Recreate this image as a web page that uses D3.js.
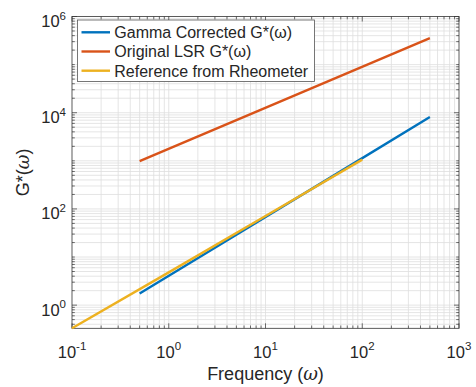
<!DOCTYPE html>
<html>
<head>
<meta charset="utf-8">
<script src="https://cdn.jsdelivr.net/npm/d3@7"></script>
<style>
  html, body { margin: 0; padding: 0; background: #fff; }
  svg { display: block; font-family: "Liberation Sans", Arial, Helvetica, sans-serif; }
</style>
</head>
<body>
<svg id="chart" width="476" height="387"></svg>
<script>
// Frequency sweeps (rad/s) and complex modulus G*(ω)
const gammaFreq = [0.5, 5, 50, 500];
const gammaG    = [1.75, 29, 487, 8110];

const lsrFreq = [0.5, 5, 50, 500];
const lsrG    = [990, 7030, 49900, 354000];

const rheoFreq = [0.1, 1, 10, 100];
const rheoG    = [0.33, 4.8, 71, 1060];

const seriesNames = ["Gamma Corrected G*(ω)", "Original LSR G*(ω)", "Reference from Rheometer"];
const xTickExps = [-1, 0, 1, 2, 3];
const yTickExps = [0, 2, 4, 6];

const series = [
  { name: seriesNames[0], x: gammaFreq, y: gammaG, color: "#0072BD" },
  { name: seriesNames[1], x: lsrFreq,   y: lsrG,   color: "#D95319" },
  { name: seriesNames[2], x: rheoFreq,  y: rheoG,  color: "#EDB120" }
];

const svg = d3.select("#chart");
const L = 72, R = 459, T = 16.5, B = 328.3;

const x = d3.scaleLog().domain([0.1, 1000]).range([L, R]);
const y = d3.scaleLog().domain([0.33, 1e6]).range([B, T]);

// grid: minor (2..9 per decade) and decade lines
const xMinor = [], yMinor = [];
for (let e = -1; e < 3; e++) for (let m = 1; m <= 9; m++) xMinor.push(m * Math.pow(10, e));
for (let e = -1; e < 6; e++) for (let m = 1; m <= 9; m++) {
  const v = m * Math.pow(10, e);
  if (v > 0.33 && v < 1e6) yMinor.push(v);
}

const grid = svg.append("g");
grid.selectAll(".gx").data(xMinor.filter(v => v > 0.1 && v < 1000)).enter().append("line")
  .attr("x1", d => x(d)).attr("x2", d => x(d)).attr("y1", T).attr("y2", B)
  .attr("stroke", "#dedede").attr("stroke-width", 0.8);
grid.selectAll(".gy").data(yMinor).enter().append("line")
  .attr("y1", d => y(d)).attr("y2", d => y(d)).attr("x1", L).attr("x2", R)
  .attr("stroke", "#dedede").attr("stroke-width", 0.8);

// tick marks on all four sides, pointing inward
const ticks = svg.append("g").attr("stroke", "#333").attr("stroke-width", 0.7);
xMinor.filter(v => v >= 0.1 && v <= 1000).concat([1000]).forEach(v => {
  const major = Math.abs(Math.log10(v) - Math.round(Math.log10(v))) < 1e-9;
  const len = major ? 5 : 2.8;
  ticks.append("line").attr("x1", x(v)).attr("x2", x(v)).attr("y1", B).attr("y2", B - len);
  ticks.append("line").attr("x1", x(v)).attr("x2", x(v)).attr("y1", T).attr("y2", T + len);
});
yMinor.concat([1e6]).forEach(v => {
  const lg = Math.log10(v);
  const major = Math.abs(lg - Math.round(lg)) < 1e-9 && Math.round(lg) % 2 === 0;
  const len = major ? 5 : 2.8;
  ticks.append("line").attr("y1", y(v)).attr("y2", y(v)).attr("x1", L).attr("x2", L + len);
  ticks.append("line").attr("y1", y(v)).attr("y2", y(v)).attr("x1", R).attr("x2", R - len);
});

// axes box
svg.append("rect").attr("x", L).attr("y", T).attr("width", R - L).attr("height", B - T)
  .attr("fill", "none").attr("stroke", "#333").attr("stroke-width", 0.8);

// data lines
const line = d3.line().x(d => x(d[0])).y(d => y(d[1]));
const plot = svg.append("g");
series.forEach(s => {
  plot.append("path")
    .attr("d", line(s.x.map((v, i) => [v, s.y[i]])))
    .attr("fill", "none").attr("stroke", s.color).attr("stroke-width", 2.4)
    .attr("stroke-linecap", "butt");
});

// tick labels 10^k
const tl = svg.append("g").attr("fill", "#262626");
xTickExps.forEach(e => {
  const t = tl.append("text").attr("x", x(Math.pow(10, e))).attr("y", 357.5)
    .attr("text-anchor", "middle").attr("font-size", 16.5);
  t.append("tspan").text("10");
  t.append("tspan").attr("dy", -7.5).attr("font-size", 11.5).text(e < 0 ? "-" + (-e) : String(e));
});
yTickExps.forEach(e => {
  const t = tl.append("text").attr("x", 66).attr("y", y(Math.pow(10, e)) + 10.5)
    .attr("text-anchor", "end").attr("font-size", 16.5);
  t.append("tspan").text("10");
  t.append("tspan").attr("dy", -7.5).attr("font-size", 11.5).text(String(e));
});

// axis labels
const xl = svg.append("text").attr("x", (L + R) / 2).attr("y", 380)
  .attr("text-anchor", "middle").attr("font-size", 18).attr("fill", "#262626");
xl.append("tspan").text("Frequency (");
xl.append("tspan").attr("font-style", "italic").attr("font-family", "'DejaVu Serif', serif").text("ω");
xl.append("tspan").text(")");

const yl = svg.append("text").attr("transform", `translate(29,${(T + B) / 2}) rotate(-90)`)
  .attr("text-anchor", "middle").attr("font-size", 18).attr("fill", "#262626");
yl.append("tspan").text("G*(");
yl.append("tspan").attr("font-style", "italic").attr("font-family", "'DejaVu Serif', serif").text("ω");
yl.append("tspan").text(")");

// legend
const lg = svg.append("g");
lg.append("rect").attr("x", 77.5).attr("y", 20).attr("width", 237).attr("height", 61.5)
  .attr("fill", "#fff").attr("stroke", "#555").attr("stroke-width", 0.8);
series.forEach((s, i) => {
  const yy = 32.3 + i * 19.2;
  lg.append("line").attr("x1", 81.5).attr("x2", 110).attr("y1", yy).attr("y2", yy)
    .attr("stroke", s.color).attr("stroke-width", 2.4);
  lg.append("text").attr("x", 114.3).attr("y", yy + 5.8).attr("font-size", 16)
    .attr("fill", "#262626").text(s.name);
});
</script>
</body>
</html>
